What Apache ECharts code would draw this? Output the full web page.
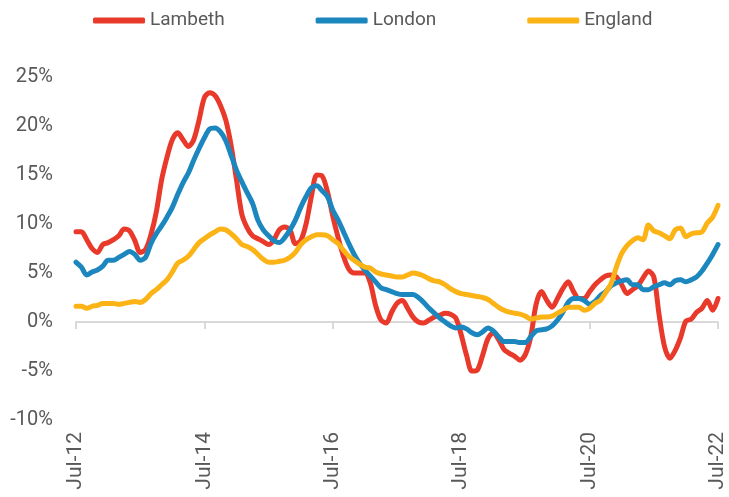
<!DOCTYPE html>
<html>
<head>
<meta charset="utf-8">
<script src="https://cdn.jsdelivr.net/npm/echarts@6/dist/echarts.min.js"></script>
<style>
  html, body { margin:0; padding:0; background:#fff; }
  #chart { width:729px; height:497px; }
</style>
</head>
<body>
<div id="chart"></div>
<script>
// monthly house price growth (%), Jul-12 .. Jul-22
const monthNames = ['Jan','Feb','Mar','Apr','May','Jun','Jul','Aug','Sep','Oct','Nov','Dec'];
const months = [];
for (let y = 12; y <= 22; y++) {
  monthNames.forEach((m, i) => {
    if ((y === 12 && i < 6) || (y === 22 && i > 6)) return;
    months.push(`${m}-${y}`);
  });
}

const lambeth = [
  9.2, 9.2, 8.4, 7.5, 7.1, 7.9,
  8.1, 8.4, 8.8, 9.5, 9.3, 8.3, 7.1, 7.4, 8.9, 11.2, 14.5, 16.8,
  18.6, 19.3, 18.6, 17.9, 18.6, 20.6, 22.9, 23.4, 23.1, 22.1, 20.6, 18.0,
  14.5, 11.0, 9.6, 8.8, 8.5, 8.2, 7.9, 8.4, 9.4, 9.7, 9.4, 8.0,
  8.3, 10.0, 12.8, 15.0, 14.9, 13.3, 10.8, 8.6, 6.7, 5.4, 5.0, 5.0,
  5.0, 4.0, 1.7, 0.2, -0.1, 1.0, 1.9, 2.2, 1.4, 0.5, 0.0, -0.1,
  0.2, 0.5, 0.7, 0.9, 0.8, 0.4, -1.3, -3.4, -5.0, -4.9, -3.4, -1.7,
  -1.1, -1.8, -2.8, -3.2, -3.5, -3.9, -3.3, -1.5, 1.8, 3.1, 2.2, 1.5,
  2.4, 3.4, 4.1, 3.1, 2.4, 2.4, 3.1, 3.8, 4.3, 4.7, 4.8, 4.6,
  3.8, 2.9, 3.3, 3.7, 4.5, 5.2, 4.6, 0.7, -2.5, -3.7, -2.9, -1.6,
  0.1, 0.3, 1.0, 1.4, 2.2, 1.2, 2.4
];

const london = [
  6.1, 5.6, 4.8, 5.1, 5.3, 5.7,
  6.3, 6.3, 6.6, 6.9, 7.2, 6.9, 6.3, 6.6, 8.0, 9.0, 9.8, 10.7,
  11.7, 13.0, 14.2, 15.2, 16.5, 17.7, 18.8, 19.7, 19.8, 19.4, 18.5, 17.0,
  15.5, 14.3, 13.2, 12.1, 10.4, 9.4, 8.8, 8.3, 8.1, 8.6, 9.4, 10.4,
  11.7, 12.8, 13.7, 13.9, 13.4, 12.8, 11.4, 10.4, 9.2, 8.0, 6.9, 6.0,
  5.3, 4.7, 4.1, 3.5, 3.3, 3.1, 2.9, 2.8, 2.8, 2.8, 2.5, 2.0,
  1.4, 0.9, 0.4, 0.0, -0.4, -0.6, -0.5, -0.7, -1.1, -1.3, -1.0, -0.6,
  -0.9, -1.5, -2.0, -2.0, -2.0, -2.1, -2.1, -1.5, -0.9, -0.8, -0.7, -0.4,
  0.2, 1.0, 2.0, 2.4, 2.4, 2.2, 1.8, 2.1, 2.7, 3.1, 3.7, 4.0,
  4.2, 4.3, 3.8, 3.8, 3.3, 3.3, 3.6, 3.8, 4.0, 3.8, 4.2, 4.3,
  4.1, 4.3, 4.6, 5.2, 6.0, 6.9, 7.9
];

const england = [
  1.6, 1.6, 1.4, 1.6, 1.7, 1.9,
  1.9, 1.9, 1.8, 1.9, 2.0, 2.1, 2.0, 2.3, 2.9, 3.3, 3.8, 4.3,
  5.1, 6.0, 6.3, 6.7, 7.4, 8.1, 8.5, 8.9, 9.2, 9.5, 9.4, 9.0,
  8.5, 7.9, 7.7, 7.4, 6.9, 6.4, 6.1, 6.1, 6.2, 6.3, 6.6, 7.1,
  7.9, 8.4, 8.7, 8.9, 8.9, 8.8, 8.4, 8.0, 7.3, 6.7, 6.3, 5.9,
  5.6, 5.5, 5.1, 4.9, 4.8, 4.7, 4.6, 4.6, 4.8, 5.0, 4.9, 4.7,
  4.4, 4.2, 4.1, 3.8, 3.4, 3.1, 2.9, 2.8, 2.7, 2.6, 2.5, 2.3,
  1.9, 1.5, 1.2, 1.0, 0.9, 0.8, 0.6, 0.3, 0.4, 0.5, 0.5, 0.6,
  0.9, 1.2, 1.5, 1.5, 1.5, 1.2, 1.4, 1.9, 2.2, 3.0, 3.9, 5.6,
  7.0, 7.8, 8.3, 8.6, 8.4, 9.9, 9.3, 9.1, 8.8, 8.5, 9.4, 9.6,
  8.7, 9.0, 9.1, 9.2, 10.1, 10.7, 11.9
];

const seriesNames = ['Lambeth', 'London', 'England'];
const colors = ['#E8392B', '#1C87BF', '#FBB316'];
const FONT = "'Roboto', sans-serif";

const chart = echarts.init(document.getElementById('chart'));
chart.setOption({
  animation: false,
  color: colors,
  textStyle: {fontFamily: FONT, color: '#595959'},
  legend: {
    left: 88, top: 6,
    icon: 'roundRect', itemWidth: 52, itemHeight: 6, itemGap: 91,
    textStyle: {fontSize: 19, color: '#595959', fontFamily: FONT},
    data: seriesNames
  },
  grid: {left: 76, right: 11, top: 77, bottom: 77},
  xAxis: [
    {
      type: 'category', data: months, boundaryGap: false, position: 'bottom',
      axisLine: {show: false, onZero: false}, axisTick: {show: false},
      axisLabel: {rotate: 90, interval: 23, margin: 12, fontSize: 21, color: '#595959', fontFamily: FONT}
    },
    {
      type: 'category', data: months, boundaryGap: false, position: 'bottom',
      axisLine: {show: true, onZero: true, lineStyle: {color: '#D9D9D9', width: 2}},
      axisTick: {show: true, interval: 23, length: 7, lineStyle: {color: '#D9D9D9', width: 2}},
      axisLabel: {show: false}
    }
  ],
  yAxis: {
    type: 'value', min: -10, max: 25, interval: 5,
    splitLine: {show: false}, axisLine: {show: false}, axisTick: {show: false},
    axisLabel: {formatter: '{value}%', margin: 23, fontSize: 20, color: '#595959', fontFamily: FONT}
  },
  series: [lambeth, london, england].map((d, i) => ({
    name: seriesNames[i], type: 'line', data: d, xAxisIndex: 0,
    symbol: 'none', smooth: 0.3,
    lineStyle: {width: 5, color: colors[i], cap: 'round', join: 'round'}
  }))
});
</script>
</body>
</html>
